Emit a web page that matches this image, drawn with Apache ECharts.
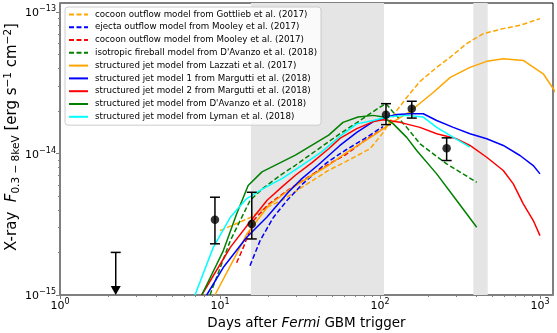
<!DOCTYPE html>
<html>
<head>
<meta charset="utf-8">
<script src="https://cdn.jsdelivr.net/npm/echarts@6/dist/echarts.min.js"></script>
<style>
  html, body { margin: 0; padding: 0; background: #fff; }
  #chart { width: 557px; height: 333px; }
</style>
</head>
<body>
<div id="chart"></div>
<script>
// model curves (days after trigger, flux in erg/s/cm^2)
const gottliebDays = [10.0, 15.4, 19.6, 24.4, 34.1, 47.8, 60.7, 86.6, 104.9, 127.2, 146.9, 177.8, 226.1, 273.8, 348.3, 442.2, 589.6, 749.9, 1000];
const gottliebFlux = [2.85e-15, 3.52e-15, 4.17e-15, 4.67e-15, 5.97e-15, 7.62e-15, 8.73e-15, 1.08e-14, 1.41e-14, 2.01e-14, 2.49e-14, 3.23e-14, 4.06e-14, 4.78e-14, 5.98e-14, 7.03e-14, 7.63e-14, 8.05e-14, 8.98e-14];

const mooleyEjectaDays = [15.4, 17.8, 21.5, 26.2, 33.0, 46.6, 60.4, 80.6, 104.4];
const mooleyEjectaFlux = [1.61e-15, 2.42e-15, 3.52e-15, 4.65e-15, 6.13e-15, 8.63e-15, 1.05e-14, 1.28e-14, 1.55e-14];

const mooleyCocoonDays = [12.7, 14.0, 16.2, 20.0, 26.9, 37.6, 48.7, 61.3, 80.6, 104.4];
const mooleyCocoonFlux = [1.69e-15, 2.17e-15, 3.36e-15, 4.36e-15, 5.56e-15, 7.10e-15, 8.50e-15, 9.84e-15, 1.24e-14, 1.50e-14];

const davanzoIsoDays = [8.66, 11.6, 15.4, 18.3, 23.7, 29.6, 56.2, 75.0, 100, 109, 121, 147, 178, 261, 402];
const davanzoIsoFlux = [1.0e-15, 2.42e-15, 4.65e-15, 5.6e-15, 6.99e-15, 8.26e-15, 1.38e-14, 1.71e-14, 2.13e-14, 2.25e-14, 1.96e-14, 1.53e-14, 1.17e-14, 8.45e-15, 6.26e-15];

const lazzatiDays = [9.30, 12.7, 14.7, 20.2, 26.9, 37.6, 47.8, 61.9, 90.8, 115.5, 154, 215, 275, 365, 465, 590, 786, 1048, 1211, 1433];
const lazzatiFlux = [1.0e-15, 1.95e-15, 2.70e-15, 4.31e-15, 5.50e-15, 7.02e-15, 8.26e-15, 1.02e-14, 1.34e-14, 1.62e-14, 1.98e-14, 2.70e-14, 3.45e-14, 4.06e-14, 4.48e-14, 4.68e-14, 4.55e-14, 3.66e-14, 2.87e-14, 2.08e-14];

const margutti1Days = [8.26, 10.5, 14.7, 19.6, 26.9, 32.5, 41.4, 56.2, 71.6, 90.8, 110.1, 127.2, 154, 186.5, 226.1, 287.2, 365.2, 464.5, 589.6, 749.9, 908, 1000];
const margutti1Flux = [1.0e-15, 1.57e-15, 2.56e-15, 3.54e-15, 5.36e-15, 6.65e-15, 8.36e-15, 1.14e-14, 1.41e-14, 1.68e-14, 1.81e-14, 1.89e-14, 1.91e-14, 1.91e-14, 1.71e-14, 1.53e-14, 1.38e-14, 1.27e-14, 1.14e-14, 9.68e-15, 8.22e-15, 7.18e-15];

const margutti2Days = [7.69, 11.6, 16.2, 19.7, 24.4, 29.6, 37.6, 47.8, 56.2, 71.6, 90.8, 104.9, 133.4, 177.8, 226.1, 301.6, 365.2, 464.5, 589.6, 681, 786.3, 908, 1000];
const margutti2Flux = [1.0e-15, 2.17e-15, 3.54e-15, 4.67e-15, 5.81e-15, 7.02e-15, 8.63e-15, 1.08e-14, 1.28e-14, 1.50e-14, 1.68e-14, 1.73e-14, 1.66e-14, 1.53e-14, 1.38e-14, 1.27e-14, 1.14e-14, 9.41e-15, 7.58e-15, 6.10e-15, 4.41e-15, 3.36e-15, 2.63e-15];

const davanzoJetDays = [7.69, 10.5, 12.7, 15.0, 18.3, 29.6, 47.8, 58.7, 72.9, 90.8, 104.9, 121.1, 146.9, 169.6, 226.1, 301.6, 402.2];
const davanzoJetFlux = [1.0e-15, 2.06e-15, 3.74e-15, 5.94e-15, 7.42e-15, 9.73e-15, 1.35e-14, 1.66e-14, 1.81e-14, 1.86e-14, 1.81e-14, 1.62e-14, 1.30e-14, 1.05e-14, 7.18e-15, 4.65e-15, 3.01e-15];

const lymanDays = [6.98, 9.08, 11.6, 14.7, 18.6, 24.4, 32.5, 43.4, 57.0, 71.6, 90.8, 110.1, 146.9, 186.5, 226.1, 287.2, 365.2];
const lymanFlux = [1.0e-15, 2.17e-15, 3.54e-15, 4.80e-15, 5.65e-15, 6.65e-15, 8.26e-15, 1.03e-14, 1.34e-14, 1.62e-14, 1.71e-14, 1.81e-14, 1.86e-14, 1.81e-14, 1.53e-14, 1.30e-14, 1.11e-14];

// observations
const obsDays = [9.3, 15.8, 109, 158, 261];
const obsFlux = [3.40e-15, 3.18e-15, 1.88e-14, 2.07e-14, 1.09e-14];
const obsLow  = [2.30e-15, 2.49e-15, 1.60e-14, 1.78e-14, 8.92e-15];
const obsHigh = [4.91e-15, 5.32e-15, 2.25e-14, 2.34e-14, 1.29e-14];
const limitDays = [2.23];
const limitFlux = [2.0e-15];

// shaded epochs
const bandStart = [15.6, 383];
const bandEnd = [106, 471];

// axes
const xMin = 1, xMax = 1206;
const yMin = 1e-15, yMax = 1.158e-13;
const xMajor = [1, 10, 100, 1000];
const yMajor = [1e-15, 1e-14, 1e-13];
const xMinor = [];
for (const d of [1, 10, 100]) for (let k = 2; k <= 9; k++) xMinor.push(k * d);
const yMinor = [];
for (const d of [1e-15, 1e-14]) for (let k = 2; k <= 9; k++) yMinor.push(k * d);

const FONT = 'DejaVu Sans';
const DASH = [5, 2.5];

const models = [
  { name: 'cocoon outflow model from Gottlieb et al. (2017)', days: gottliebDays, flux: gottliebFlux, color: '#FFA500', dashed: true },
  { name: 'ejecta outflow model from Mooley et al. (2017)', days: mooleyEjectaDays, flux: mooleyEjectaFlux, color: '#0000FF', dashed: true },
  { name: 'cocoon outflow model from Mooley et al. (2017)', days: mooleyCocoonDays, flux: mooleyCocoonFlux, color: '#FF0000', dashed: true },
  { name: "isotropic fireball model from D'Avanzo et al. (2018)", days: davanzoIsoDays, flux: davanzoIsoFlux, color: '#008000', dashed: true },
  { name: 'structured jet model from Lazzati et al. (2017)', days: lazzatiDays, flux: lazzatiFlux, color: '#FFA500', dashed: false },
  { name: 'structured jet model 1 from Margutti et al. (2018)', days: margutti1Days, flux: margutti1Flux, color: '#0000FF', dashed: false },
  { name: 'structured jet model 2 from Margutti et al. (2018)', days: margutti2Days, flux: margutti2Flux, color: '#FF0000', dashed: false },
  { name: "structured jet model from D'Avanzo et al. (2018)", days: davanzoJetDays, flux: davanzoJetFlux, color: '#008000', dashed: false },
  { name: 'structured jet model from Lyman et al. (2018)', days: lymanDays, flux: lymanFlux, color: '#00FFFF', dashed: false }
];

function powLabel(v) {
  const e = Math.round(Math.log10(v));
  return '{b|10}{e|' + (e < 0 ? '\u2212' + (-e) : e) + '}';
}
const powRich = {
  b: { fontSize: 11, fontFamily: FONT, color: '#000', lineHeight: 14, verticalAlign: 'bottom' },
  e: { fontSize: 8, fontFamily: FONT, color: '#000', lineHeight: 8, verticalAlign: 'top' }
};

const chart = echarts.init(document.getElementById('chart'), null, { renderer: 'canvas' });

const series = [];
series.push({
  name: 'bands', type: 'line', data: [], z: 1, silent: true,
  markArea: {
    silent: true,
    itemStyle: { color: '#e5e5e5' },
    data: bandStart.map((s, i) => [{ xAxis: s }, { xAxis: bandEnd[i] }])
  }
});
for (const m of models) {
  series.push({
    name: m.name, type: 'line', z: 2,
    data: m.days.map((d, i) => [d, m.flux[i]]),
    symbol: 'none', showSymbol: false, clip: true,
    itemStyle: { color: m.color },
    lineStyle: { color: m.color, width: 1.5, type: m.dashed ? DASH : 'solid' }
  });
}
series.push({
  name: 'errors', type: 'custom', z: 5, silent: true,
  data: obsDays.map((d, i) => [d, obsFlux[i], obsLow[i], obsHigh[i]]),
  encode: { x: 0, y: 1 },
  renderItem: function (params, api) {
    const x = api.value(0);
    const top = api.coord([x, api.value(3)]);
    const bot = api.coord([x, api.value(2)]);
    const st = { stroke: '#000', lineWidth: 1.5 };
    return { type: 'group', children: [
      { type: 'line', shape: { x1: top[0], y1: top[1], x2: bot[0], y2: bot[1] }, style: st },
      { type: 'line', shape: { x1: top[0] - 5, y1: top[1], x2: top[0] + 5, y2: top[1] }, style: st },
      { type: 'line', shape: { x1: bot[0] - 5, y1: bot[1], x2: bot[0] + 5, y2: bot[1] }, style: st }
    ] };
  }
});
series.push({
  name: 'limits', type: 'custom', z: 5, silent: true, clip: false,
  data: limitDays.map((d, i) => [d, limitFlux[i]]),
  encode: { x: 0, y: 1 },
  renderItem: function (params, api) {
    const x = api.value(0);
    const top = api.coord([x, api.value(1)]);
    const tip = api.coord([x, yMin]);
    const st = { stroke: '#000', lineWidth: 1.5 };
    return { type: 'group', children: [
      { type: 'line', shape: { x1: top[0], y1: top[1], x2: tip[0], y2: tip[1] - 8 }, style: st },
      { type: 'line', shape: { x1: top[0] - 5, y1: top[1], x2: top[0] + 5, y2: top[1] }, style: st },
      { type: 'polygon', shape: { points: [[tip[0] - 5, tip[1] - 9], [tip[0] + 5, tip[1] - 9], [tip[0], tip[1]]] }, style: { fill: '#000' } }
    ] };
  }
});
series.push({
  name: 'points', type: 'scatter', z: 6, silent: true,
  data: obsDays.map((d, i) => [d, obsFlux[i]]),
  symbol: 'circle', symbolSize: 8.5,
  itemStyle: { color: '#000' }
});

const option = {
  animation: false,
  backgroundColor: '#fff',
  grid: {
    left: 60, right: 4, top: 3, bottom: 38,
    containLabel: false, outerBoundsMode: 'none',
    show: true, borderColor: '#000', borderWidth: 1, backgroundColor: '#fff'
  },
  legend: {
    data: models.map(m => m.name),
    orient: 'vertical', left: 65, top: 7,
    padding: [1, 4, 2, 3],
    itemWidth: 19, itemHeight: 12.8, itemGap: 0,
    itemStyle: { opacity: 0, borderWidth: 0 },
    backgroundColor: 'rgba(255,255,255,0.8)',
    borderColor: '#cccccc', borderWidth: 1, borderRadius: 3,
    selectedMode: false,
    textStyle: { fontFamily: FONT, fontSize: 8.7, color: '#000', lineHeight: 12.8, padding: [0, 0, 0, 2] }
  },
  xAxis: [{
    type: 'log', logBase: 10, min: xMin, max: xMax, position: 'bottom',
    axisLine: { lineStyle: { color: '#808080', width: 2 } },
    axisTick: { customValues: xMajor, length: 4, lineStyle: { color: '#808080', width: 1 } },
    axisLabel: { customValues: xMajor, formatter: powLabel, rich: powRich, margin: 3 },
    splitLine: { show: false },
    name: '{n|Days after }{i|Fermi}{n| GBM trigger}',
    nameLocation: 'middle', nameGap: 21, nameMoveOverlap: false,
    nameTextStyle: { rich: {
      n: { fontFamily: FONT, fontSize: 13.5, color: '#000' },
      i: { fontFamily: FONT, fontSize: 13.5, color: '#000', fontStyle: 'italic' }
    } }
  }, {
    type: 'log', logBase: 10, min: xMin, max: xMax, position: 'bottom',
    axisLine: { show: false },
    axisTick: { customValues: xMinor, length: 2, lineStyle: { color: '#808080', width: 1 } },
    axisLabel: { show: false },
    splitLine: { show: false }
  }],
  yAxis: [{
    type: 'log', logBase: 10, min: yMin, max: yMax, position: 'left',
    axisLine: { lineStyle: { color: '#808080', width: 2 } },
    axisTick: { customValues: yMajor, length: 4, lineStyle: { color: '#808080', width: 1 } },
    axisLabel: { customValues: yMajor, formatter: powLabel, rich: powRich, margin: 4 },
    splitLine: { show: false },
    name: '{n|X-ray  }{i|F}{s|0.3 \u2212 8keV}{n| [erg s}{p|\u22121}{n| cm}{p|\u22122}{n|]}',
    nameLocation: 'middle', nameGap: 38, nameRotate: 90, nameMoveOverlap: false,
    nameTextStyle: {
      padding: [0, 0, 0, 24],
      rich: {
        n: { fontFamily: FONT, fontSize: 15, color: '#000', lineHeight: 19, verticalAlign: 'middle' },
        i: { fontFamily: FONT, fontSize: 15, color: '#000', fontStyle: 'italic', lineHeight: 19, verticalAlign: 'middle' },
        s: { fontFamily: FONT, fontSize: 10.5, color: '#000', lineHeight: 10, verticalAlign: 'bottom' },
        p: { fontFamily: FONT, fontSize: 10.5, color: '#000', lineHeight: 10, verticalAlign: 'top' }
      }
    }
  }, {
    type: 'log', logBase: 10, min: yMin, max: yMax, position: 'left',
    axisLine: { show: false },
    axisTick: { customValues: yMinor, length: 2, lineStyle: { color: '#808080', width: 1 } },
    axisLabel: { show: false },
    splitLine: { show: false }
  }],
  series: series
};

chart.setOption(option);
</script>
</body>
</html>
